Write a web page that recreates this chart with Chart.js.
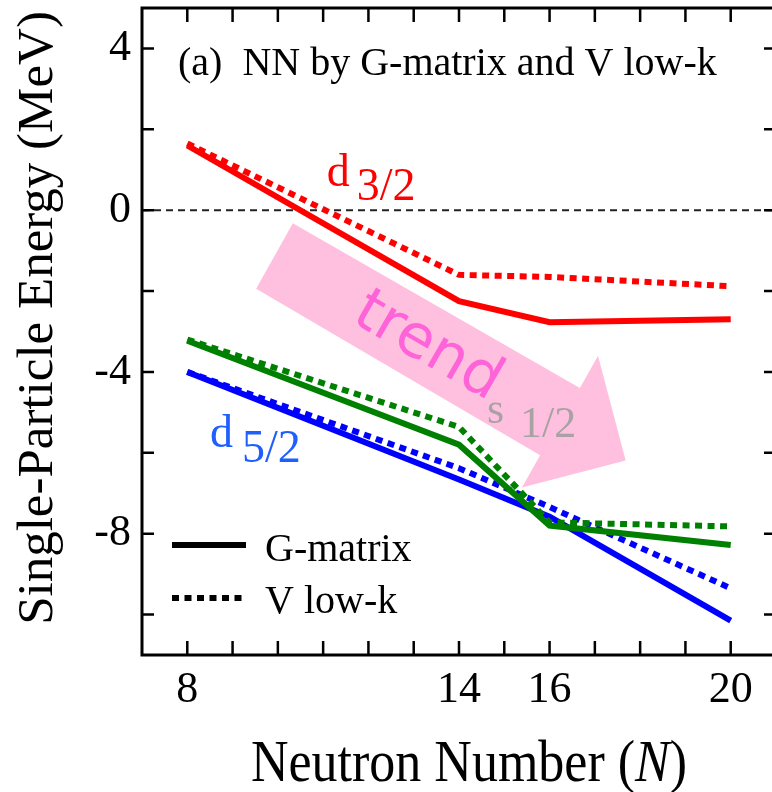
<!DOCTYPE html>
<html>
<head>
<meta charset="utf-8">
<script src="https://cdn.jsdelivr.net/npm/chart.js@4/dist/chart.umd.min.js"></script>
<style>
  html, body { margin: 0; padding: 0; background: #fff; overflow: hidden; width: 772px; height: 792px; }
  canvas { display: block; }
</style>
</head>
<body>
<canvas id="chart" width="800" height="792"></canvas>
<script>
// neutron numbers where the energies were computed
const neutronNumbers = [8, 14, 16, 20]
const xTickLabels = [8, 14, 16, 20]
const yTickLabels = [-8, -4, 0, 4]

// single-particle energies (MeV)
const d32GMatrix = [1.6, -2.25, -2.77, -2.7]
const d32VLowK = [1.65, -1.6, -1.65, -1.88]
const s12GMatrix = [-3.23, -5.8, -7.8, -8.28]
const s12VLowK = [-3.2, -5.36, -7.72, -7.82]
const d52GMatrix = [-4.0, -6.66, -7.58, -10.15]
const d52VLowK = [-4.0, -6.38, -7.34, -9.35]

// "trend" arrow outline, in axis units
const arrowX = [10.33, 16.67, 17.07, 17.68, 15.39, 15.79, 9.52]
const arrowY = [-0.32, -4.40, -3.60, -6.19, -6.86, -6.06, -1.94]

const SERIF = "'Liberation Serif', 'Times New Roman', serif"
const DOTS = [7, 5.5]

const pts = arr => arr.map((v, i) => ({ x: neutronNumbers[i], y: v }))

const line = (label, values, color, dashed) => ({
  label,
  data: pts(values),
  borderColor: color,
  borderWidth: 6,
  borderDash: dashed ? DOTS : [],
  borderCapStyle: "butt",
  pointRadius: 0,
  tension: 0,
  fill: false
})

const decor = {
  id: "decor",
  beforeDatasetsDraw(chart) {
    const { ctx, chartArea: a, scales: { x, y } } = chart
    ctx.save()

    // zero line
    const y0 = y.getPixelForValue(0)
    ctx.strokeStyle = "#222"
    ctx.lineWidth = 2
    ctx.setLineDash([7, 5])
    ctx.beginPath()
    ctx.moveTo(a.left, y0)
    ctx.lineTo(a.right, y0)
    ctx.stroke()
    ctx.setLineDash([])

    // pink arrow
    ctx.fillStyle = "#ffc0e0"
    ctx.beginPath()
    arrowX.forEach((v, i) => {
      const px = x.getPixelForValue(v), py = y.getPixelForValue(arrowY[i])
      i ? ctx.lineTo(px, py) : ctx.moveTo(px, py)
    })
    ctx.closePath()
    ctx.fill()

    // trend
    ctx.save()
    ctx.translate(x.getPixelForValue(13.3), y.getPixelForValue(-3.4))
    ctx.rotate(30 * Math.PI / 180)
    ctx.fillStyle = "#ff63d8"
    ctx.font = "60px 'DejaVu Sans', sans-serif"
    ctx.textAlign = "center"
    ctx.textBaseline = "middle"
    ctx.fillText("trend", 0, 0)
    ctx.restore()

    // s1/2
    ctx.fillStyle = "#a9a2a4"
    ctx.font = `44px ${SERIF}`
    ctx.textAlign = "left"
    ctx.textBaseline = "alphabetic"
    const sx = x.getPixelForValue(14.62), sy = y.getPixelForValue(-5.27)
    ctx.fillText("s", sx, sy)
    ctx.fillText("1/2", sx + 33, sy + 14)

    ctx.restore()
  },
  afterDatasetsDraw(chart) {
    const { ctx, chartArea: a, scales: { x, y } } = chart
    ctx.save()

    // frame
    ctx.strokeStyle = "#000"
    ctx.lineWidth = 3
    ctx.strokeRect(a.left, a.top, a.right - a.left, a.bottom - a.top)

    // inward ticks
    ctx.lineWidth = 2.5
    ctx.beginPath()
    for (let v = -10; v <= 4; v += 2) {
      const py = y.getPixelForValue(v)
      ctx.moveTo(a.left, py); ctx.lineTo(a.left + 12, py)
      ctx.moveTo(a.right, py); ctx.lineTo(a.right - 12, py)
    }
    for (let v = 8; v <= 20; v++) {
      const px = x.getPixelForValue(v)
      ctx.moveTo(px, a.bottom); ctx.lineTo(px, a.bottom - 14)
      ctx.moveTo(px, a.top); ctx.lineTo(px, a.top + 14)
    }
    ctx.stroke()

    // legend
    ctx.lineWidth = 6
    ctx.beginPath(); ctx.moveTo(172, 545); ctx.lineTo(246, 545); ctx.stroke()
    ctx.setLineDash(DOTS)
    ctx.beginPath(); ctx.moveTo(172, 598); ctx.lineTo(246, 598); ctx.stroke()
    ctx.setLineDash([])
    ctx.fillStyle = "#000"
    ctx.font = `40px ${SERIF}`
    ctx.textAlign = "left"
    ctx.textBaseline = "alphabetic"
    ctx.fillText("G-matrix", 265, 561)
    ctx.fillText("V low-k", 265, 613)

    // panel title
    ctx.fillText("(a)  NN by G-matrix and V low-k", 178, 75)

    // orbital labels
    ctx.font = `46px ${SERIF}`
    ctx.fillStyle = "#ff0000"
    let lx = x.getPixelForValue(11.08), ly = y.getPixelForValue(0.6)
    ctx.fillText("d", lx, ly)
    ctx.fillText("3/2", lx + 30, ly + 14)
    ctx.fillStyle = "#1f5fff"
    lx = x.getPixelForValue(8.5); ly = y.getPixelForValue(-5.86)
    ctx.fillText("d", lx, ly)
    ctx.fillText("5/2", lx + 32, ly + 15)

    // y title
    ctx.save()
    ctx.fillStyle = "#000"
    ctx.translate(52, 318)
    ctx.rotate(-Math.PI / 2)
    ctx.font = `51px ${SERIF}`
    ctx.textAlign = "center"
    ctx.fillText("Single-Particle Energy (MeV)", 0, 0)
    ctx.restore()

    // x title with italic N
    ctx.save()
    ctx.fillStyle = "#000"
    ctx.translate(0, 781)
    ctx.scale(1, 1.12)
    const reg = `52px ${SERIF}`, ita = `italic 52px ${SERIF}`
    const p1 = "Neutron Number (", p2 = "N", p3 = ")"
    ctx.font = reg
    const w1 = ctx.measureText(p1).width, w3 = ctx.measureText(p3).width
    ctx.font = ita
    const w2 = ctx.measureText(p2).width
    let tx = 469 - (w1 + w2 + w3) / 2
    ctx.font = reg; ctx.fillText(p1, tx, 0); tx += w1
    ctx.font = ita; ctx.fillText(p2, tx, 0); tx += w2
    ctx.font = reg; ctx.fillText(p3, tx, 0)
    ctx.restore()

    ctx.restore()
  }
}

new Chart(document.getElementById("chart"), {
  type: "line",
  data: {
    datasets: [
      line("d3/2 G-matrix", d32GMatrix, "#ff0000", false),
      line("d3/2 V low-k", d32VLowK, "#ff0000", true),
      line("s1/2 G-matrix", s12GMatrix, "#008000", false),
      line("s1/2 V low-k", s12VLowK, "#008000", true),
      line("d5/2 G-matrix", d52GMatrix, "#0000ff", false),
      line("d5/2 V low-k", d52VLowK, "#0000ff", true)
    ]
  },
  options: {
    responsive: false,
    animation: false,
    devicePixelRatio: 1,
    layout: { padding: { top: 8, right: 24, left: 0, bottom: 0 } },
    plugins: { legend: { display: false }, tooltip: { enabled: false } },
    scales: {
      x: {
        type: "linear",
        min: 7,
        max: 21,
        afterFit: s => { s.height = 137; s.paddingLeft = 0; s.paddingRight = 0 },
        grid: { display: false, drawTicks: false },
        border: { display: false },
        ticks: {
          stepSize: 1,
          autoSkip: false,
          maxRotation: 0,
          padding: 9,
          color: "#000",
          font: { family: SERIF, size: 44 },
          callback: v => xTickLabels.includes(v) ? String(v) : null
        }
      },
      y: {
        min: -11,
        max: 5,
        afterFit: s => { s.width = 142; s.paddingTop = 0; s.paddingBottom = 0 },
        grid: { display: false, drawTicks: false },
        border: { display: false },
        ticks: {
          stepSize: 1,
          autoSkip: false,
          padding: 11,
          color: "#000",
          font: { family: SERIF, size: 44 },
          callback: v => yTickLabels.includes(v) ? String(v) : null
        }
      }
    }
  },
  plugins: [decor]
})
</script>
</body>
</html>
